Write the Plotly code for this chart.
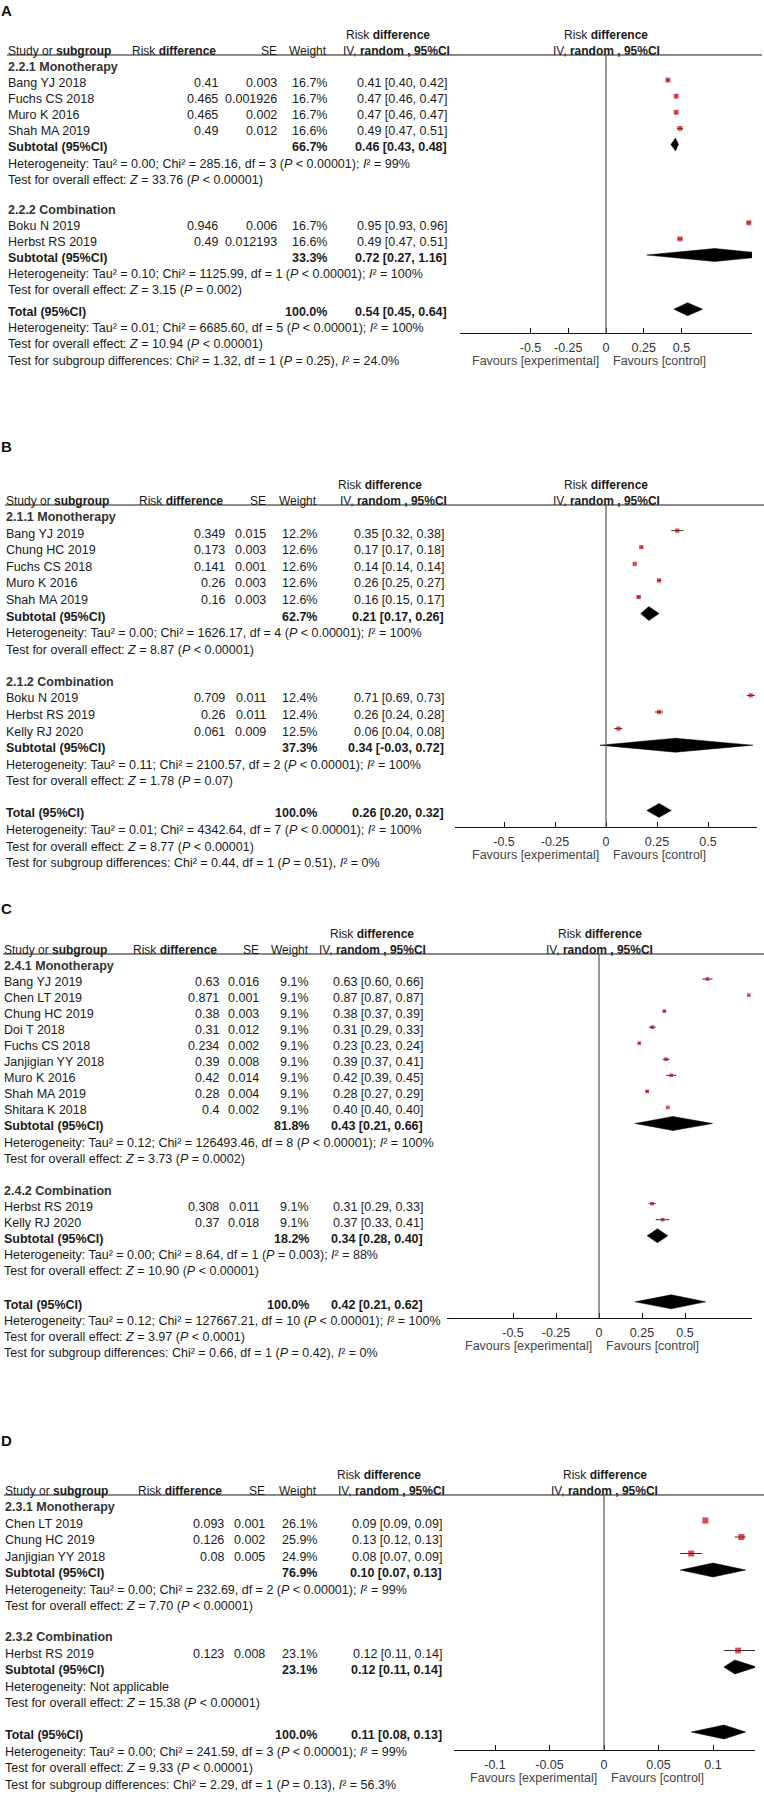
import math
import plotly.graph_objects as go

W, H = 764, 1798
FONT = "Arial, 'Liberation Sans', sans-serif"
FS = 12.5
INK = "#1a1a1a"
GRAY = "#333333"
RED = "#c8000a"

# ================= DATA =================
# ---- Panel A ----
a_groups = ["2.2.1 Monotherapy", "2.2.2 Combination"]
a1_names = ["Bang YJ 2018", "Fuchs CS 2018", "Muro K 2016", "Shah MA 2019"]
a1_rd = [0.41, 0.465, 0.465, 0.49]
a1_se = [0.003, 0.001926, 0.002, 0.012]
a1_w = [16.7, 16.7, 16.7, 16.6]
a1_lo = [0.40, 0.46, 0.46, 0.47]
a1_hi = [0.42, 0.47, 0.47, 0.51]
a1_sub = [66.7, 0.46, 0.43, 0.48]
a1_het = "Heterogeneity: Tau² = 0.00; Chi² = 285.16, df = 3 (<i>P</i> &lt; 0.00001); <i>I</i>² = 99%"
a1_z = "Test for overall effect: <i>Z</i> = 33.76 (<i>P</i> &lt; 0.00001)"
a2_names = ["Boku N 2019", "Herbst RS 2019"]
a2_rd = [0.946, 0.49]
a2_se = [0.006, 0.012193]
a2_w = [16.7, 16.6]
a2_lo = [0.93, 0.47]
a2_hi = [0.96, 0.51]
a2_sub = [33.3, 0.72, 0.27, 1.16]
a2_het = "Heterogeneity: Tau² = 0.10; Chi² = 1125.99, df = 1 (<i>P</i> &lt; 0.00001); <i>I</i>² = 100%"
a2_z = "Test for overall effect: <i>Z</i> = 3.15 (<i>P</i> = 0.002)"
a_total = [100.0, 0.54, 0.45, 0.64]
a_tot_lines = ["Heterogeneity: Tau² = 0.01; Chi² = 6685.60, df = 5 (<i>P</i> &lt; 0.00001); <i>I</i>² = 100%",
               "Test for overall effect: <i>Z</i> = 10.94 (<i>P</i> &lt; 0.00001)",
               "Test for subgroup differences: Chi² = 1.32, df = 1 (<i>P</i> = 0.25), <i>I</i>² = 24.0%"]
a_ticks = [-0.5, -0.25, 0, 0.25, 0.5]

# ---- Panel B ----
b_groups = ["2.1.1 Monotherapy", "2.1.2 Combination"]
b1_names = ["Bang YJ 2019", "Chung HC 2019", "Fuchs CS 2018", "Muro K 2016", "Shah MA 2019"]
b1_rd = [0.349, 0.173, 0.141, 0.26, 0.16]
b1_se = [0.015, 0.003, 0.001, 0.003, 0.003]
b1_w = [12.2, 12.6, 12.6, 12.6, 12.6]
b1_lo = [0.32, 0.17, 0.14, 0.25, 0.15]
b1_hi = [0.38, 0.18, 0.14, 0.27, 0.17]
b1_sub = [62.7, 0.21, 0.17, 0.26]
b1_het = "Heterogeneity: Tau² = 0.00; Chi² = 1626.17, df = 4 (<i>P</i> &lt; 0.00001); <i>I</i>² = 100%"
b1_z = "Test for overall effect: <i>Z</i> = 8.87 (<i>P</i> &lt; 0.00001)"
b2_names = ["Boku N 2019", "Herbst RS 2019", "Kelly RJ 2020"]
b2_rd = [0.709, 0.26, 0.061]
b2_se = [0.011, 0.011, 0.009]
b2_w = [12.4, 12.4, 12.5]
b2_lo = [0.69, 0.24, 0.04]
b2_hi = [0.73, 0.28, 0.08]
b2_sub = [37.3, 0.34, -0.03, 0.72]
b2_het = "Heterogeneity: Tau² = 0.11; Chi² = 2100.57, df = 2 (<i>P</i> &lt; 0.00001); <i>I</i>² = 100%"
b2_z = "Test for overall effect: <i>Z</i> = 1.78 (<i>P</i> = 0.07)"
b_total = [100.0, 0.26, 0.20, 0.32]
b_tot_lines = ["Heterogeneity: Tau² = 0.01; Chi² = 4342.64, df = 7 (<i>P</i> &lt; 0.00001); <i>I</i>² = 100%",
               "Test for overall effect: <i>Z</i> = 8.77 (<i>P</i> &lt; 0.00001)",
               "Test for subgroup differences: Chi² = 0.44, df = 1 (<i>P</i> = 0.51), <i>I</i>² = 0%"]
b_ticks = [-0.5, -0.25, 0, 0.25, 0.5]

# ---- Panel C ----
c_groups = ["2.4.1 Monotherapy", "2.4.2 Combination"]
c1_names = ["Bang YJ 2019", "Chen LT 2019", "Chung HC 2019", "Doi T 2018", "Fuchs CS 2018",
            "Janjigian YY 2018", "Muro K 2016", "Shah MA 2019", "Shitara K 2018"]
c1_rd = [0.63, 0.871, 0.38, 0.31, 0.234, 0.39, 0.42, 0.28, 0.4]
c1_se = [0.016, 0.001, 0.003, 0.012, 0.002, 0.008, 0.014, 0.004, 0.002]
c1_w = [9.1, 9.1, 9.1, 9.1, 9.1, 9.1, 9.1, 9.1, 9.1]
c1_lo = [0.60, 0.87, 0.37, 0.29, 0.23, 0.37, 0.39, 0.27, 0.40]
c1_hi = [0.66, 0.87, 0.39, 0.33, 0.24, 0.41, 0.45, 0.29, 0.40]
c1_sub = [81.8, 0.43, 0.21, 0.66]
c1_het = "Heterogeneity: Tau² = 0.12; Chi² = 126493.46, df = 8 (<i>P</i> &lt; 0.00001); <i>I</i>² = 100%"
c1_z = "Test for overall effect: <i>Z</i> = 3.73 (<i>P</i> = 0.0002)"
c2_names = ["Herbst RS 2019", "Kelly RJ 2020"]
c2_rd = [0.308, 0.37]
c2_se = [0.011, 0.018]
c2_w = [9.1, 9.1]
c2_lo = [0.29, 0.33]
c2_hi = [0.33, 0.41]
c2_sub = [18.2, 0.34, 0.28, 0.40]
c2_het = "Heterogeneity: Tau² = 0.00; Chi² = 8.64, df = 1 (<i>P</i> = 0.003); <i>I</i>² = 88%"
c2_z = "Test for overall effect: <i>Z</i> = 10.90 (<i>P</i> &lt; 0.00001)"
c_total = [100.0, 0.42, 0.21, 0.62]
c_tot_lines = ["Heterogeneity: Tau² = 0.12; Chi² = 127667.21, df = 10 (<i>P</i> &lt; 0.00001); <i>I</i>² = 100%",
               "Test for overall effect: <i>Z</i> = 3.97 (<i>P</i> &lt; 0.0001)",
               "Test for subgroup differences: Chi² = 0.66, df = 1 (<i>P</i> = 0.42), <i>I</i>² = 0%"]
c_ticks = [-0.5, -0.25, 0, 0.25, 0.5]

# ---- Panel D ----
d_groups = ["2.3.1 Monotherapy", "2.3.2 Combination"]
d1_names = ["Chen LT 2019", "Chung HC 2019", "Janjigian YY 2018"]
d1_rd = [0.093, 0.126, 0.08]
d1_se = [0.001, 0.002, 0.005]
d1_w = [26.1, 25.9, 24.9]
d1_lo = [0.09, 0.12, 0.07]
d1_hi = [0.09, 0.13, 0.09]
d1_sub = [76.9, 0.10, 0.07, 0.13]
d1_het = "Heterogeneity: Tau² = 0.00; Chi² = 232.69, df = 2 (<i>P</i> &lt; 0.00001); <i>I</i>² = 99%"
d1_z = "Test for overall effect: <i>Z</i> = 7.70 (<i>P</i> &lt; 0.00001)"
d2_names = ["Herbst RS 2019"]
d2_rd = [0.123]
d2_se = [0.008]
d2_w = [23.1]
d2_lo = [0.11]
d2_hi = [0.14]
d2_sub = [23.1, 0.12, 0.11, 0.14]
d2_het = "Heterogeneity: Not applicable"
d2_z = "Test for overall effect: <i>Z</i> = 15.38 (<i>P</i> &lt; 0.00001)"
d_total = [100.0, 0.11, 0.08, 0.13]
d_tot_lines = ["Heterogeneity: Tau² = 0.00; Chi² = 241.59, df = 3 (<i>P</i> &lt; 0.00001); <i>I</i>² = 99%",
               "Test for overall effect: <i>Z</i> = 9.33 (<i>P</i> &lt; 0.00001)",
               "Test for subgroup differences: Chi² = 2.29, df = 1 (<i>P</i> = 0.13), <i>I</i>² = 56.3%"]
d_ticks = [-0.1, -0.05, 0, 0.05, 0.1]

# ================= LAYOUT GEOMETRY (pixels) =================
GEOM = {
    "A": dict(letter_y=10, line_y=55, step=16.1, gap_group=30, gap_total=22, axis_y=333, zero_x=606, ppu=151,
              ax_l=460, ax_r=752, name_x=7, rd_r=219, se_r=278, w_r=328, ci_r=448, rdh_x=388, line_x1=762, hh=6.5),
    "B": dict(letter_y=447, line_y=505, step=16.6, gap_group=32, gap_total=32, axis_y=827, zero_x=606, ppu=204,
              ax_l=455, ax_r=757, name_x=5, rd_r=226, se_r=267, w_r=318, ci_r=445, rdh_x=380, line_x1=764, hh=7),
    "C": dict(letter_y=908, line_y=954, step=16.05, gap_group=32, gap_total=34, axis_y=1318, zero_x=599, ppu=172,
              ax_l=447, ax_r=752, name_x=3, rd_r=220, se_r=260, w_r=310, ci_r=424, rdh_x=372, line_x1=764, hh=7),
    "D": dict(letter_y=1440, line_y=1495, step=16.5, gap_group=31, gap_total=32, axis_y=1750, zero_x=604, ppu=1090,
              ax_l=454, ax_r=755, name_x=4, rd_r=225, se_r=266, w_r=318, ci_r=443, rdh_x=379, line_x1=764, hh=7),
}


def grp(title, names, rd, se, w, lo, hi, sub, het, z):
    return dict(title=title, names=names, rd=rd, se=se, w=w, lo=lo, hi=hi, sub=sub, het=het, z=z)


panels = [
    dict(letter="A", ticks=a_ticks, total=a_total, tot_lines=a_tot_lines, groups=[
        grp(a_groups[0], a1_names, a1_rd, a1_se, a1_w, a1_lo, a1_hi, a1_sub, a1_het, a1_z),
        grp(a_groups[1], a2_names, a2_rd, a2_se, a2_w, a2_lo, a2_hi, a2_sub, a2_het, a2_z)]),
    dict(letter="B", ticks=b_ticks, total=b_total, tot_lines=b_tot_lines, groups=[
        grp(b_groups[0], b1_names, b1_rd, b1_se, b1_w, b1_lo, b1_hi, b1_sub, b1_het, b1_z),
        grp(b_groups[1], b2_names, b2_rd, b2_se, b2_w, b2_lo, b2_hi, b2_sub, b2_het, b2_z)]),
    dict(letter="C", ticks=c_ticks, total=c_total, tot_lines=c_tot_lines, groups=[
        grp(c_groups[0], c1_names, c1_rd, c1_se, c1_w, c1_lo, c1_hi, c1_sub, c1_het, c1_z),
        grp(c_groups[1], c2_names, c2_rd, c2_se, c2_w, c2_lo, c2_hi, c2_sub, c2_het, c2_z)]),
    dict(letter="D", ticks=d_ticks, total=d_total, tot_lines=d_tot_lines, groups=[
        grp(d_groups[0], d1_names, d1_rd, d1_se, d1_w, d1_lo, d1_hi, d1_sub, d1_het, d1_z),
        grp(d_groups[1], d2_names, d2_rd, d2_se, d2_w, d2_lo, d2_hi, d2_sub, d2_het, d2_z)]),
]

fig = go.Figure()
annotations = []
shapes = []
layout_axes = {}


def ann(x, y, text, anchor="left", size=FS, color=INK):
    annotations.append(dict(x=x / W, y=1 - y / H, xref="paper", yref="paper", text=text,
                            xanchor=anchor, yanchor="middle", showarrow=False, borderpad=0,
                            font=dict(family=FONT, size=size, color=color)))


def fmt_ci(e, lo, hi):
    return f"{e:.2f} [{lo:.2f}, {hi:.2f}]"


MARK_DY = -3
HFS = 12  # header font size

for i, p in enumerate(panels):
    g = GEOM[p["letter"]]
    s = "" if i == 0 else str(i + 1)
    xa, ya = "x" + s, "y" + s

    # axes for the graphic column
    x_lo = (g["ax_l"] - g["zero_x"]) / g["ppu"]
    x_hi = (g["ax_r"] - g["zero_x"]) / g["ppu"]
    layout_axes["xaxis" + s] = dict(domain=[g["ax_l"] / W, g["ax_r"] / W], range=[x_lo, x_hi], anchor=ya,
                                    showgrid=False, zeroline=False, showline=True, linecolor="#111", linewidth=1,
                                    ticks="inside", ticklen=5, tickcolor="#111", tickwidth=1,
                                    tickvals=p["ticks"], ticktext=[f"{t:g}" for t in p["ticks"]],
                                    tickfont=dict(family=FONT, size=FS, color=GRAY), ticklabelstandoff=3,
                                    fixedrange=True)
    layout_axes["yaxis" + s] = dict(domain=[1 - g["axis_y"] / H, 1 - g["line_y"] / H],
                                    range=[g["axis_y"], g["line_y"]], anchor=xa, visible=False,
                                    showgrid=False, zeroline=False, fixedrange=True)

    # zero line
    shapes.append(dict(type="line", xref=xa, yref=ya, x0=0, x1=0, y0=g["line_y"], y1=g["axis_y"],
                       line=dict(color="#555", width=1.2)))
    # header line
    shapes.append(dict(type="line", xref="paper", yref="paper", x0=g["name_x"] / W, x1=g["line_x1"] / W,
                       y0=1 - g["line_y"] / H, y1=1 - g["line_y"] / H, line=dict(color="#666", width=1.5)))

    # panel letter
    ann(0, g["letter_y"], f"<b>{p['letter']}</b>", size=15, color="#111")
    # headers
    hy = g["line_y"] - 4
    ann(g["name_x"], hy, "Study or <b>subgroup</b>", size=HFS)
    ann(g["rd_r"] - 2, hy, "Risk <b>difference</b>", anchor="right", size=HFS)
    ann(g["se_r"], hy, "SE", anchor="right", size=HFS)
    ann(g["w_r"], hy, "Weight", anchor="right", size=HFS)
    ann(g["ci_r"] + 3, hy, "IV, <b>random , 95%CI</b>", anchor="right", size=HFS)
    ann(g["rdh_x"], g["line_y"] - 20, "Risk <b>difference</b>", anchor="center", size=HFS)
    cx = (g["ax_l"] + g["ax_r"]) / 2
    ann(cx, g["line_y"] - 20, "Risk <b>difference</b>", anchor="center", size=HFS)
    ann(cx, hy, "IV, <b>random , 95%CI</b>", anchor="center", size=HFS)

    # favours labels
    fy = g["axis_y"] + 28
    ann(g["zero_x"] - 6, fy, "Favours [experimental]", anchor="right", color="#444")
    ann(g["zero_x"] + 6, fy, "Favours [control]", anchor="left", color="#444")

    # rows
    y = g["line_y"] + 12
    st_x, st_y, st_w = [], [], []
    wx, wy = [], []
    diamonds = []
    for gi, G in enumerate(p["groups"]):
        if gi > 0:
            y += g["gap_group"]
        ann(g["name_x"], y, f"<b>{G['title']}</b>", color="#333")
        for k, nm in enumerate(G["names"]):
            y += g["step"]
            ann(g["name_x"], y, nm)
            ann(g["rd_r"], y, str(G["rd"][k]), anchor="right")
            ann(g["se_r"], y, str(G["se"][k]), anchor="right")
            ann(g["w_r"], y, f"{G['w'][k]:.1f}%", anchor="right")
            ann(g["ci_r"], y, fmt_ci(G["rd"][k], G["lo"][k], G["hi"][k]), anchor="right")
            st_x.append(G["rd"][k]); st_y.append(y + MARK_DY); st_w.append(G["w"][k])
            wx += [G["lo"][k], G["hi"][k], None]
            wy += [y + MARK_DY, y + MARK_DY, None]
        y += g["step"]
        sw, se_, slo, shi = G["sub"]
        ann(g["name_x"], y, "<b>Subtotal (95%CI)</b>")
        ann(g["w_r"], y, f"<b>{sw:.1f}%</b>", anchor="right")
        ann(g["ci_r"], y, f"<b>{fmt_ci(se_, slo, shi)}</b>", anchor="right")
        diamonds.append((se_, slo, shi, y + MARK_DY))
        y += g["step"]
        ann(g["name_x"], y, G["het"])
        y += g["step"]
        ann(g["name_x"], y, G["z"])
    y += g["gap_total"]
    tw, te, tlo, thi = p["total"]
    ann(g["name_x"], y, "<b>Total (95%CI)</b>")
    ann(g["w_r"], y, f"<b>{tw:.1f}%</b>", anchor="right")
    ann(g["ci_r"], y, f"<b>{fmt_ci(te, tlo, thi)}</b>", anchor="right")
    diamonds.append((te, tlo, thi, y + MARK_DY))
    for line in p["tot_lines"]:
        y += g["step"]
        ann(g["name_x"], y, line)

    # whiskers
    fig.add_trace(go.Scatter(x=wx, y=wy, mode="lines", line=dict(color="#333", width=1),
                             xaxis=xa, yaxis=ya, hoverinfo="skip", showlegend=False))
    # study squares
    fig.add_trace(go.Scatter(x=st_x, y=st_y, mode="markers", xaxis=xa, yaxis=ya, showlegend=False,
                             marker=dict(symbol="square", color=RED, size=[1.2 * math.sqrt(w) for w in st_w],
                                         line=dict(width=0)), cliponaxis=True))
    # diamonds
    hh = g["hh"]
    for (e, lo, hi, yy) in diamonds:
        fig.add_trace(go.Scatter(x=[lo, e, hi, e, lo], y=[yy, yy - hh, yy, yy + hh, yy], mode="lines",
                                 fill="toself", fillcolor="#000", line=dict(color="#000", width=0.5),
                                 xaxis=xa, yaxis=ya, hoverinfo="skip", showlegend=False))

fig.update_layout(width=W, height=H, margin=dict(l=0, r=0, t=0, b=0), paper_bgcolor="white",
                  plot_bgcolor="rgba(0,0,0,0)", showlegend=False, annotations=annotations, shapes=shapes,
                  font=dict(family=FONT, size=FS, color=INK), **layout_axes)

fig.write_html("out.html", config={"displayModeBar": False},
               post_script="document.body.style.margin='0';")
